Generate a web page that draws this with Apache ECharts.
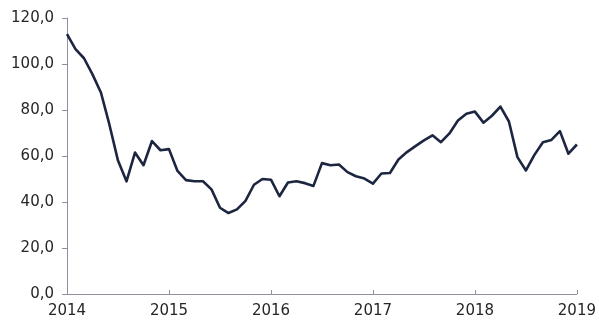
<!DOCTYPE html>
<html>
<head>
<meta charset="utf-8">
<script src="https://cdn.jsdelivr.net/npm/echarts@6/dist/echarts.min.js"></script>
<style>
  html, body { margin: 0; padding: 0; background: #ffffff; }
  #chart { width: 599px; height: 325px; }
</style>
</head>
<body>
<div id="chart"></div>
<script>
// Year tick labels shown along the time axis
const yearLabels = ['2014', '2015', '2016', '2017', '2018', '2019'];

// Monthly observations, January 2014 through January 2019
const values2014 = [113.0, 106.5, 102.5, 95.5, 87.5, 73.5, 58.0, 49.0, 61.5, 56.0, 66.5, 62.5];
const values2015 = [63.0, 53.5, 49.5, 49.0, 49.0, 45.5, 37.5, 35.2, 36.8, 40.5, 47.5, 50.0];
const values2016 = [49.7, 42.5, 48.5, 49.0, 48.2, 47.0, 56.9, 56.0, 56.3, 53.0, 51.2, 50.2];
const values2017 = [48.0, 52.4, 52.6, 58.5, 61.7, 64.3, 66.8, 69.0, 66.0, 69.8, 75.4, 78.4];
const values2018 = [79.3, 74.5, 77.5, 81.5, 75.0, 59.5, 53.7, 60.5, 66.0, 67.0, 70.8, 61.0];
const values2019 = [65.0];

const yTicks = [0, 20, 40, 60, 80, 100, 120];

const series = [].concat(values2014, values2015, values2016, values2017, values2018, values2019);

// One category per month, labelled "YYYY-MM"
const months = [];
for (let i = 0; i < series.length; i++) {
  const y = 2014 + Math.floor(i / 12);
  const m = (i % 12) + 1;
  months.push(y + '-' + (m < 10 ? '0' + m : m));
}

const isJanuary = (idx) => idx % 12 === 0;
const font = 'DejaVu Sans, Verdana, sans-serif';

const chart = echarts.init(document.getElementById('chart'));
chart.setOption({
  animation: false,
  backgroundColor: '#ffffff',
  grid: { left: 67, right: 18, top: 18, bottom: 31, containLabel: false },
  xAxis: {
    type: 'category',
    data: months,
    boundaryGap: false,
    axisLine: { lineStyle: { color: '#8e92a0', width: 1 } },
    axisTick: { show: true, inside: true, interval: (idx) => isJanuary(idx), length: 4, lineStyle: { color: '#8e92a0' } },
    axisLabel: {
      interval: (idx) => isJanuary(idx),
      formatter: (val) => yearLabels[yearLabels.indexOf(val.slice(0, 4))],
      color: '#262626',
      fontFamily: font,
      fontSize: 15,
      margin: 10
    },
    splitLine: { show: false }
  },
  yAxis: {
    type: 'value',
    min: yTicks[0],
    max: yTicks[yTicks.length - 1],
    interval: 20,
    axisLine: { show: true, lineStyle: { color: '#8e92a0', width: 1 } },
    axisTick: { show: true, length: 5, lineStyle: { color: '#8e92a0' } },
    axisLabel: {
      formatter: (v) => v.toFixed(1).replace('.', ','),
      color: '#262626',
      fontFamily: font,
      fontSize: 15,
      margin: 13
    },
    splitLine: { show: false }
  },
  series: [{
    type: 'line',
    data: series,
    symbol: 'none',
    smooth: false,
    lineStyle: { color: '#1c2640', width: 2.6, join: 'round' }
  }]
});
</script>
</body>
</html>
